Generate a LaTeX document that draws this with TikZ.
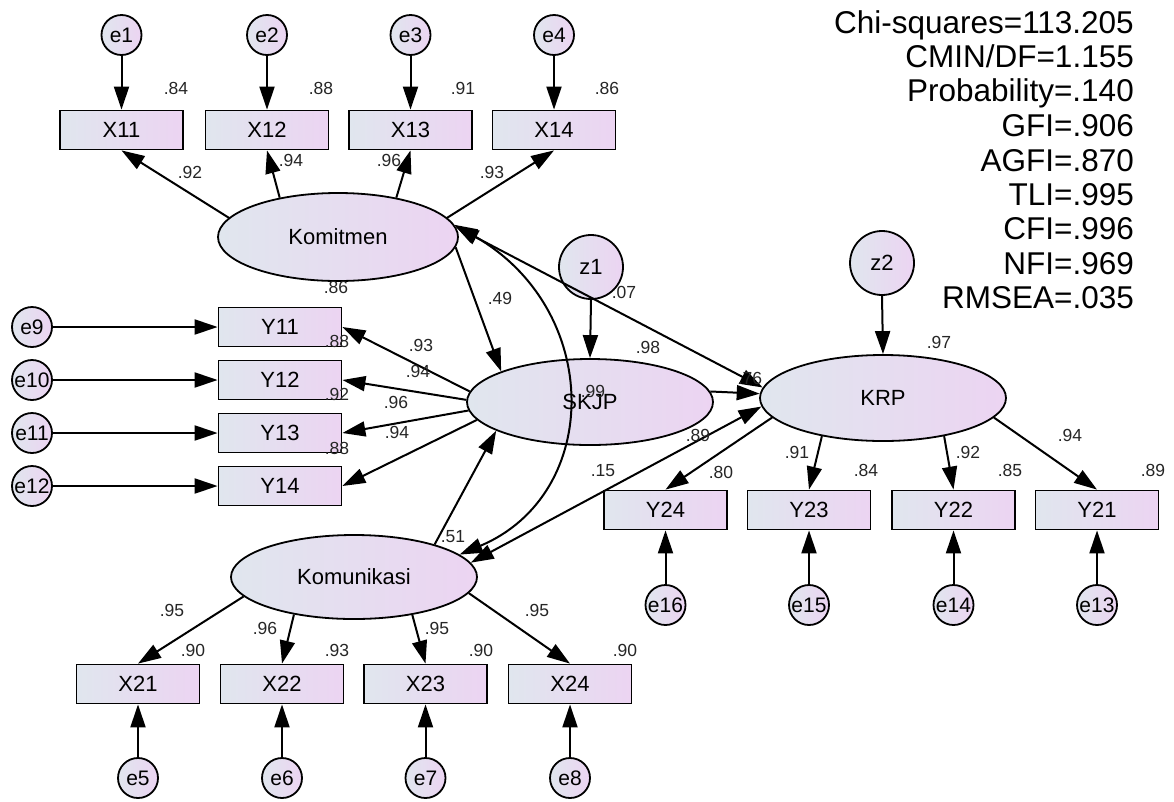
\documentclass[tikz,border=0pt]{standalone}
\usepackage{fontspec}
\setmainfont{Liberation Sans}
\usetikzlibrary{shapes.geometric,arrows.meta}
\definecolor{lc}{RGB}{224,230,238}
\definecolor{rc}{RGB}{236,212,242}
\tikzset{
 shadefill/.style={left color=lc,right color=rc,draw=black,line width=1.8pt},
 obs/.style={shadefill,rectangle,minimum width=123pt,minimum height=39pt,inner sep=0pt,font=\fontsize{22}{26}\selectfont},
 err/.style={shadefill,circle,minimum size=40pt,inner sep=0pt,font=\fontsize{21}{25}\selectfont},
 dist/.style={shadefill,circle,minimum size=64pt,inner sep=0pt,font=\fontsize{22}{26}\selectfont},
 lat/.style={shadefill,ellipse,minimum width=246pt,minimum height=86pt,inner sep=0pt,font=\fontsize{22}{26}\selectfont},
 val/.style={inner sep=0pt,font=\fontsize{17.5}{20}\selectfont,text=black!85},
 fitstat/.style={inner sep=0pt,anchor=base east,font=\fontsize{31.5}{36}\selectfont},
 arr/.style={line width=2pt,-{Triangle[length=23pt,width=15pt]}},
 darr/.style={line width=2pt,{Triangle[length=23pt,width=15pt]}-{Triangle[length=23pt,width=15pt]}},
}
\begin{document}
\begin{tikzpicture}[x=1pt,y=-1pt]
\fill[white] (0,0) rectangle (1174,801);
\useasboundingbox (0,0) rectangle (1174,801);
% latent variables
\node[lat,minimum width=240pt,minimum height=88pt] (kom) at (338,237) {Komitmen};
\node[lat] (skjp) at (590,402) {SKJP};
\node[lat] (krp) at (883,398) {KRP};
\node[lat,minimum height=84pt] (komu) at (354,577) {Komunikasi};
\node[dist] (z1) at (591,267) {z1};
\node[dist] (z2) at (882,263) {z2};
% top indicators
\node[obs] (x11) at (121.5,130) {X11};
\node[obs] (x12) at (267,130) {X12};
\node[obs] (x13) at (410.5,130) {X13};
\node[obs] (x14) at (554,130) {X14};
\node[err] (e1) at (121.5,35) {e1};
\node[err] (e2) at (267,35) {e2};
\node[err] (e3) at (410.5,35) {e3};
\node[err] (e4) at (554,35) {e4};
% left indicators
\node[obs] (y11) at (280,327) {Y11};
\node[obs] (y12) at (280,380) {Y12};
\node[obs] (y13) at (280,433) {Y13};
\node[obs] (y14) at (280,486) {Y14};
\node[err] (e9) at (32,327) {e9};
\node[err] (e10) at (32,380) {e10};
\node[err] (e11) at (32,433) {e11};
\node[err] (e12) at (32,486) {e12};
% bottom indicators
\node[obs] (x21) at (138,684) {X21};
\node[obs] (x22) at (282,684) {X22};
\node[obs] (x23) at (425.5,684) {X23};
\node[obs] (x24) at (570,684) {X24};
\node[err] (e5) at (138,778) {e5};
\node[err] (e6) at (282,778) {e6};
\node[err] (e7) at (425.5,778) {e7};
\node[err] (e8) at (570,778) {e8};
% right indicators
\node[obs] (y24) at (665.5,510) {Y24};
\node[obs] (y23) at (809,510) {Y23};
\node[obs] (y22) at (953.5,510) {Y22};
\node[obs] (y21) at (1097,510) {Y21};
\node[err] (e16) at (665.5,605) {e16};
\node[err] (e15) at (809,605) {e15};
\node[err] (e14) at (953.5,605) {e14};
\node[err] (e13) at (1097,605) {e13};
% error arrows
\foreach \e/\x in {e1/x11,e2/x12,e3/x13,e4/x14}{\draw[arr] (\e.south) -- (\x.north);}
\foreach \e/\x in {e9/y11,e10/y12,e11/y13,e12/y14}{\draw[arr] (\e.east) -- (\x.west);}
\foreach \e/\x in {e5/x21,e6/x22,e7/x23,e8/x24,e16/y24,e15/y23,e14/y22,e13/y21}{\draw[arr] (\e.north) -- (\x.south);}
% loadings
\draw[arr] (kom.170) -- (x11.south);
\draw[arr] (kom.146) -- (x12.south);
\draw[arr] (kom.34) -- (x13.south);
\draw[arr] (kom.10) -- (x14.south);
\draw[arr] (skjp.175) -- (y11.east);
\draw[arr] (skjp.179) -- (y12.east);
\draw[arr] (skjp.184) -- (y13.east);
\draw[arr] (skjp.189) -- (y14.east);
\draw[arr] (komu.190) -- (x21.north);
\draw[arr] (komu.212) -- (x22.north);
\draw[arr] (komu.327) -- (x23.north);
\draw[arr] (komu.352) -- (x24.north);
\draw[arr] (krp.190) -- (y24.north);
\draw[arr] (krp.212) -- (y23.north);
\draw[arr] (krp.328) -- (y22.north);
\draw[arr] (krp.350) -- (y21.north);
% structural paths
\draw[arr] (z1.south) -- (skjp.north);
\draw[arr] (z2.south) -- (krp.north);
\draw[arr] (kom.355) -- (skjp.161);
\draw[arr] (komu.22) -- (skjp.197);
\draw[arr] (skjp.5) -- (krp.178);
\draw[darr] (kom.5) -- (krp.175);
\draw[darr] (komu.7) -- (krp.184);
\draw[darr] (kom.6) .. controls (603,309) and (603,494) .. (komu.12);
% values
\node[val] (v1) at (176,88) {.84};
\node[val] (v2) at (321,88) {.88};
\node[val] (v3) at (463,88) {.91};
\node[val] (v4) at (607,88) {.86};
\node[val] (v5) at (190,172) {.92};
\node[val] (v6) at (291,160) {.94};
\node[val] (v7) at (389,160) {.96};
\node[val] (v8) at (492,172) {.93};
\node[val] (v9) at (336,287) {.86};
\node[val] (v10) at (337,341) {.88};
\node[val] (v11) at (337,394) {.92};
\node[val] (v12) at (337,448) {.88};
\node[val] (v13) at (421,345) {.93};
\node[val] (v14) at (418,371) {.94};
\node[val] (v15) at (396,402) {.96};
\node[val] (v16) at (397,432) {.94};
\node[val] (v17) at (500,298) {.49};
\node[val] (v18) at (624,292) {.07};
\node[val] (v19) at (648,347) {.98};
\node[val] (v20) at (750,378) {.76};
\node[val] (v21) at (593,391) {.99};
\node[val] (v22) at (939,342) {.97};
\node[val] (v23) at (453,537) {.51};
\node[val] (v24) at (603,471) {.15};
\node[val] (v25) at (698,435) {.89};
\node[val] (v26) at (721,472) {.80};
\node[val] (v27) at (797,452) {.91};
\node[val] (v28) at (968,452) {.92};
\node[val] (v29) at (1070,435) {.94};
\node[val] (v30) at (866,470) {.84};
\node[val] (v31) at (1010,470) {.85};
\node[val] (v32) at (1153,470) {.89};
\node[val] (v33) at (172,610) {.95};
\node[val] (v34) at (265,628) {.96};
\node[val] (v35) at (437,628) {.95};
\node[val] (v36) at (537,610) {.95};
\node[val] (v37) at (193,650) {.90};
\node[val] (v38) at (337,650) {.93};
\node[val] (v39) at (481,650) {.90};
\node[val] (v40) at (625,650) {.90};
% fit statistics
\node[fitstat] (f1) at (1134,33) {Chi-squares=113.205};
\node[fitstat] (f2) at (1134,67) {CMIN/DF=1.155};
\node[fitstat] (f3) at (1134,101) {Probability=.140};
\node[fitstat] (f4) at (1134,136) {GFI=.906};
\node[fitstat] (f5) at (1134,171) {AGFI=.870};
\node[fitstat] (f6) at (1134,205) {TLI=.995};
\node[fitstat] (f7) at (1134,239) {CFI=.996};
\node[fitstat] (f8) at (1134,274) {NFI=.969};
\node[fitstat] (f9) at (1134,308) {RMSEA=.035};
\end{tikzpicture}
\end{document}
